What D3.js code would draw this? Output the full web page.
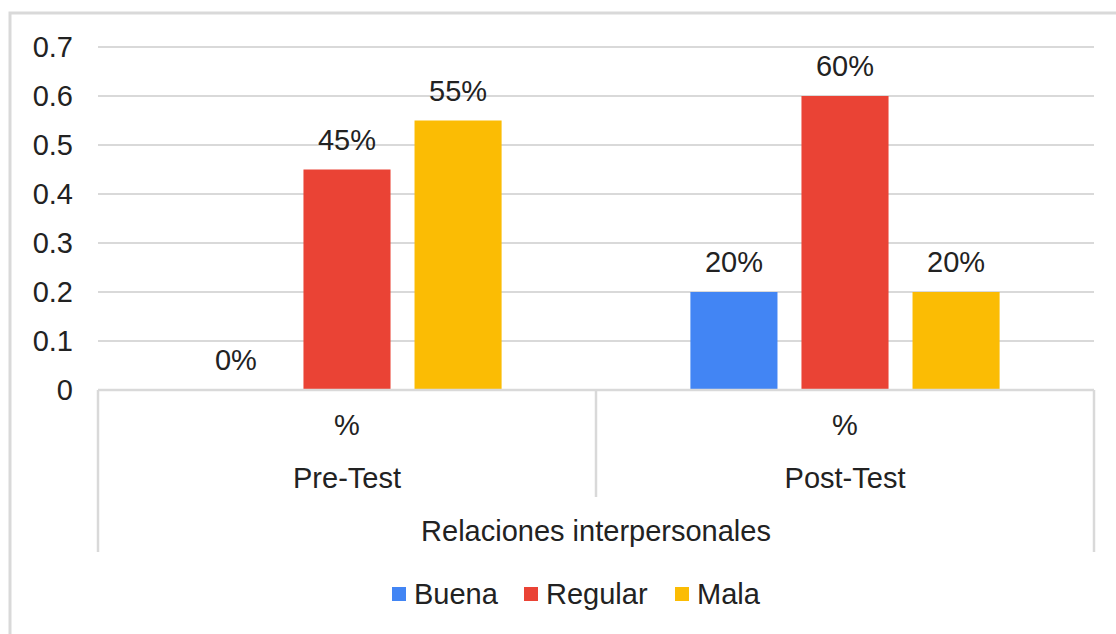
<!DOCTYPE html>
<html>
<head>
<meta charset="utf-8">
<script src="https://cdn.jsdelivr.net/npm/d3@7"></script>
<style>
  body { margin: 0; background: #fff; }
  text { font-family: Arial, "Liberation Sans", sans-serif; fill: #222; }
</style>
</head>
<body>
<script>
"use strict";

// Chart data
const groups = ["Pre-Test", "Post-Test"];
const subLabel = "%";
const axisTitle = "Relaciones interpersonales";
const series = ["Buena", "Regular", "Mala"];
const colors = ["#4285f4", "#ea4335", "#fbbc04"];
const values = [
  [0.00, 0.45, 0.55],
  [0.20, 0.60, 0.20]
];
const yTicks = [0, 0.1, 0.2, 0.3, 0.4, 0.5, 0.6, 0.7];

const width = 1116, height = 634;
const plotLeft = 98, plotRight = 1094, plotTop = 47, plotBottom = 390;
const fontSize = 29;

let svg = d3.select("body").append("svg")
    .attr("width", width)
    .attr("height", height);

// outer frame, cut by the picture on the right and bottom
svg.append("rect")
    .attr("x", 10).attr("y", 13)
    .attr("width", width + 20).attr("height", height + 20)
    .attr("fill", "none")
    .attr("stroke", "#d9d9d9")
    .attr("stroke-width", 3);

let y = d3.scaleLinear().domain([0, 0.7]).range([plotBottom, plotTop]);
let x0 = d3.scaleBand().domain(groups).range([plotLeft, plotRight]);
let x1 = d3.scaleBand().domain(series).range([0, x0.bandwidth()])
    .paddingInner(0.216).paddingOuter(0.85);

// gridlines
svg.append("g")
    .selectAll("line")
    .data(yTicks)
    .join("line")
    .attr("x1", plotLeft).attr("x2", plotRight)
    .attr("y1", d => y(d)).attr("y2", d => y(d))
    .attr("stroke", "#d9d9d9")
    .attr("stroke-width", 2);

// y tick labels
svg.append("g")
    .selectAll("text")
    .data(yTicks)
    .join("text")
    .attr("x", 73)
    .attr("y", d => y(d))
    .attr("dy", "0.35em")
    .attr("text-anchor", "end")
    .style("font-size", fontSize + "px")
    .text(d => String(+d.toFixed(1)));

// bars
let rows = [];
groups.forEach((g, i) => {
  series.forEach((s, j) => {
    rows.push({group: g, series: s, value: values[i][j], color: colors[j]});
  });
});

svg.append("g")
    .selectAll("rect")
    .data(rows.filter(d => d.value > 0))
    .join("rect")
    .attr("x", d => x0(d.group) + x1(d.series))
    .attr("y", d => y(d.value))
    .attr("width", x1.bandwidth())
    .attr("height", d => y(0) - y(d.value))
    .attr("fill", d => d.color);

// value labels
svg.append("g")
    .selectAll("text")
    .data(rows)
    .join("text")
    .attr("x", d => x0(d.group) + x1(d.series) + x1.bandwidth() / 2)
    .attr("y", d => y(d.value) - 30)
    .attr("dy", "0.35em")
    .attr("text-anchor", "middle")
    .style("font-size", fontSize + "px")
    .text(d => d3.format(".0%")(d.value));

// category frame lines
let frame = svg.append("g")
    .attr("stroke", "#d9d9d9")
    .attr("stroke-width", 2.5);
frame.append("line")
    .attr("x1", plotLeft).attr("x2", plotRight)
    .attr("y1", plotBottom).attr("y2", plotBottom);
frame.append("line")
    .attr("x1", plotLeft).attr("x2", plotLeft)
    .attr("y1", plotBottom).attr("y2", 552);
frame.append("line")
    .attr("x1", plotRight).attr("x2", plotRight)
    .attr("y1", plotBottom).attr("y2", 552);
groups.slice(1).forEach(g => {
  frame.append("line")
      .attr("x1", x0(g)).attr("x2", x0(g))
      .attr("y1", plotBottom).attr("y2", 497);
});

// category labels
let cats = svg.append("g")
    .attr("text-anchor", "middle")
    .style("font-size", fontSize + "px");
cats.selectAll(".sub")
    .data(groups)
    .join("text")
    .attr("class", "sub")
    .attr("x", d => x0(d) + x0.bandwidth() / 2)
    .attr("y", 425)
    .attr("dy", "0.35em")
    .text(subLabel);
cats.selectAll(".grp")
    .data(groups)
    .join("text")
    .attr("class", "grp")
    .attr("x", d => x0(d) + x0.bandwidth() / 2)
    .attr("y", 478)
    .attr("dy", "0.35em")
    .text(d => d);
cats.append("text")
    .attr("x", (plotLeft + plotRight) / 2)
    .attr("y", 531)
    .attr("dy", "0.35em")
    .text(axisTitle);

// legend
let legendX = [392, 524, 675];
let legend = svg.append("g")
    .selectAll("g")
    .data(series)
    .join("g")
    .attr("transform", (d, i) => `translate(${legendX[i]},594)`);
legend.append("rect")
    .attr("x", 0).attr("y", -7)
    .attr("width", 14).attr("height", 14)
    .attr("fill", (d, i) => colors[i]);
legend.append("text")
    .attr("x", 22)
    .attr("dy", "0.35em")
    .style("font-size", fontSize + "px")
    .text(d => d);
</script>
</body>
</html>
